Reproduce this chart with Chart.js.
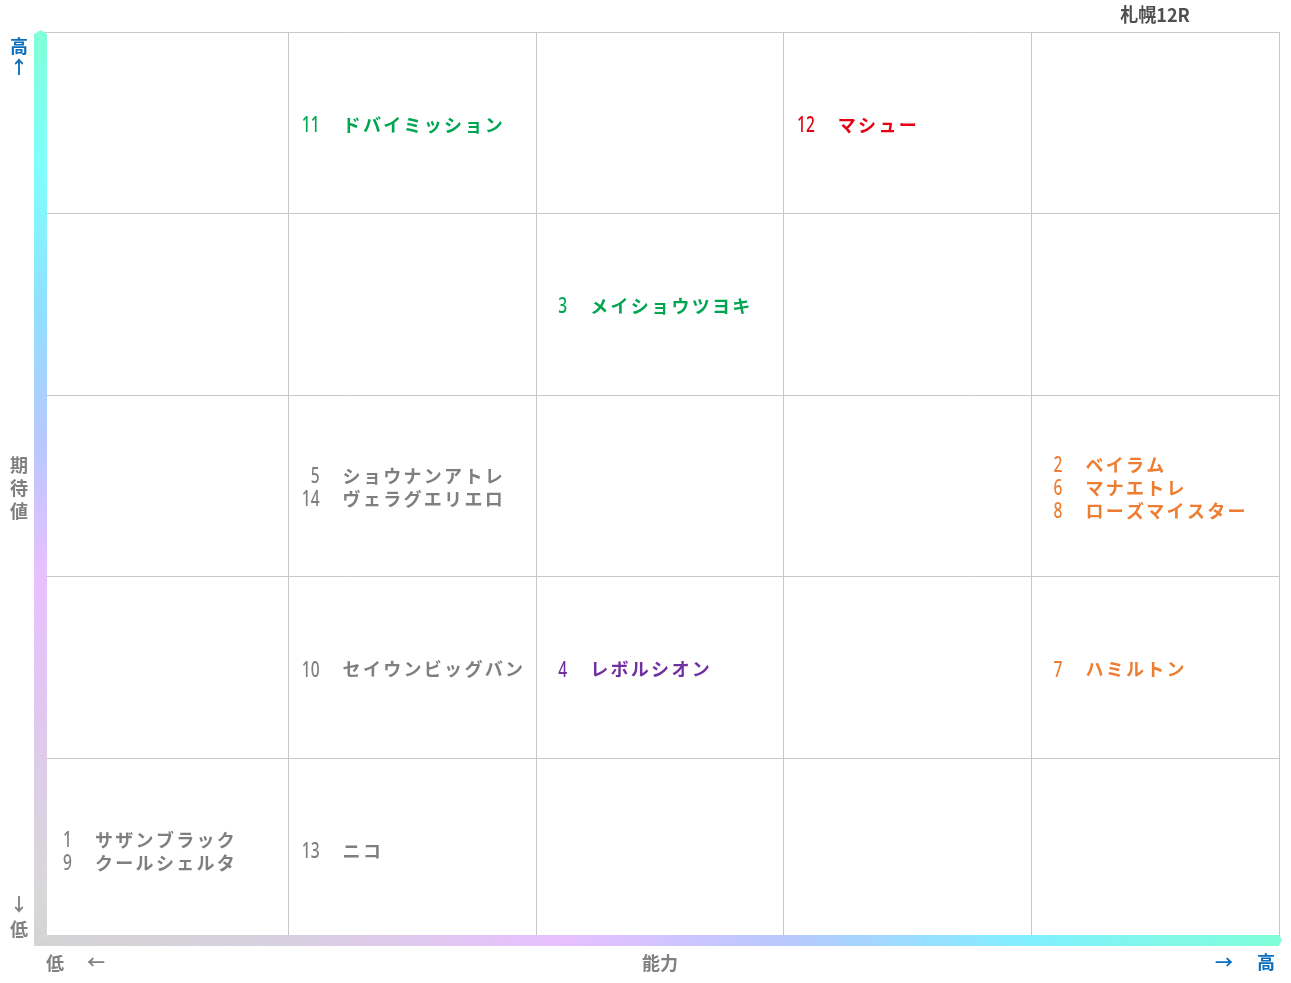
<!DOCTYPE html>
<html>
<head>
<meta charset="utf-8">
<script src="https://cdn.jsdelivr.net/npm/chart.js@4"></script>
<style>
body{margin:0;background:#fff}
#wrap{width:1291px;height:983px;position:relative}
</style>
</head>
<body>
<div id="wrap"><canvas id="myChart"></canvas></div>
<script>
// horses: number, name, ability (1-5 column), expectation (1-5 row), colour
var nums = [1,2,3,4,5,6,7,8,9,10,11,12,13,14];
var names = ["サザンブラック","ベイラム","メイショウツヨキ","レボルシオン","ショウナンアトレ","マナエトレ","ハミルトン","ローズマイスター","クールシェルタ","セイウンビッグバン","ドバイミッション","マシュー","ニコ","ヴェラグエリエロ"];
var ability =     [1,5,3,3,2,5,5,5,1,2,2,4,2,2];
var expectation = [1,3,4,2,3,3,2,3,1,2,5,5,1,3];
var colors = ["#7f7f7f","#ed7d31","#00a550","#7030a0","#7f7f7f","#ed7d31","#ed7d31","#ed7d31","#7f7f7f","#7f7f7f","#00a550","#e60012","#7f7f7f","#7f7f7f"];
var title = "札幌12R";

var pts = nums.map(function(n,i){ return {x: ability[i]-0.5, y: expectation[i]-0.5}; });

function narrowText(ctx, s, x, y, sx){
  ctx.save();
  ctx.translate(x, y);
  ctx.scale(sx, 1);
  ctx.fillText(s, 0, 0);
  ctx.restore();
}

var labelPlugin = {
  id: "labels",
  beforeDatasetsDraw: function(chart){
    var ctx = chart.ctx, a = chart.chartArea;
    ctx.save();
    // vertical gradient bar
    var g = ctx.createLinearGradient(0, a.top, 0, a.bottom);
    g.addColorStop(0, "#80ffd8");
    g.addColorStop(0.15, "#80ffff");
    g.addColorStop(0.3, "#90e0ff");
    g.addColorStop(0.45, "#b8c8ff");
    g.addColorStop(0.6, "#e8c0ff");
    g.addColorStop(0.75, "#e0c8f0");
    g.addColorStop(0.95, "#d8d8d8");
    g.addColorStop(1, "#d4d4d4");
    ctx.fillStyle = g;
    ctx.beginPath();
    ctx.moveTo(a.left-7, a.top+2);
    ctx.lineTo(a.left, a.top-2);
    ctx.lineTo(a.left+6, a.top+2);
    ctx.lineTo(a.left+6, a.bottom-5);
    ctx.lineTo(a.left-7, a.bottom+6);
    ctx.closePath();
    ctx.fill();
    // horizontal gradient bar
    var h = ctx.createLinearGradient(a.left, 0, a.right, 0);
    h.addColorStop(0, "#d4d4d4");
    h.addColorStop(0.2, "#d8d0e0");
    h.addColorStop(0.42, "#e8c0ff");
    h.addColorStop(0.6, "#b8c8ff");
    h.addColorStop(0.8, "#80f0ff");
    h.addColorStop(1, "#80ffd8");
    ctx.fillStyle = h;
    ctx.beginPath();
    ctx.moveTo(a.left-7, a.bottom+6);
    ctx.lineTo(a.left+6, a.bottom-5);
    ctx.lineTo(a.right, a.bottom-5);
    ctx.lineTo(a.right+3, a.bottom);
    ctx.lineTo(a.right, a.bottom+6);
    ctx.closePath();
    ctx.fill();

    // axis captions
    ctx.font = "bold 18px 'Noto Sans CJK JP'";
    ctx.textAlign = "center";
    ctx.textBaseline = "middle";
    ctx.fillStyle = "#0a6ebd";
    ctx.fillText("高", 19, 46);
    ctx.fillText("↑", 19, 67);
    ctx.fillText("→", 1224, 962);
    ctx.fillText("高", 1266, 962);
    ctx.fillStyle = "#808080";
    ctx.fillText("期", 19, 465);
    ctx.fillText("待", 19, 488);
    ctx.fillText("値", 19, 511);
    ctx.fillText("↓", 19, 904);
    ctx.fillText("低", 19, 929);
    ctx.fillText("低", 55, 963);
    ctx.fillText("←", 96, 962);
    ctx.fillText("能力", 660, 963);
    ctx.fillStyle = "#505050";
    ctx.font = "bold 19px 'Noto Sans CJK JP'";
    narrowText(ctx, title, 1155, 15, 0.95);

    // horse names in each cell
    var xs = chart.scales.x, ys = chart.scales.y;
    var groups = {};
    nums.forEach(function(n,i){
      var k = ability[i]+"_"+expectation[i];
      (groups[k] = groups[k] || []).push(i);
    });
    Object.keys(groups).forEach(function(k){
      var list = groups[k];
      list.forEach(function(i,j){
        var left = xs.getPixelForValue(ability[i]-1);
        var cy = ys.getPixelForValue(pts[i].y) + (j-(list.length-1)/2)*23 + 2;
        ctx.fillStyle = colors[i];
        ctx.textAlign = "right";
        ctx.font = "500 21px 'Noto Sans'";
        narrowText(ctx, String(nums[i]), left+31, cy + 1, 0.74);
        ctx.textAlign = "left";
        ctx.font = "bold 18px 'Noto Sans CJK JP'";
        var cx = left+54;
        for (var c of names[i]) {
          ctx.fillText(c, cx, cy);
          cx += 20.3;
        }
      });
    });
    ctx.restore();
  }
};

new Chart("myChart", {
  type: "scatter",
  data: {
    datasets: [{
      data: pts,
      pointRadius: 0,
      pointHoverRadius: 0,
      backgroundColor: colors
    }]
  },
  options: {
    responsive: true,
    maintainAspectRatio: false,
    animation: false,
    layout: { padding: { left: 41, top: 32, right: 12, bottom: 43 } },
    plugins: {
      legend: { display: false },
      tooltip: { enabled: false },
      title: { display: false }
    },
    scales: {
      x: {
        min: 0, max: 5,
        ticks: { display: false, stepSize: 1 },
        grid: { color: "#c8c8c8", drawTicks: false, lineWidth: 1 },
        border: { display: false }
      },
      y: {
        min: 0, max: 5,
        ticks: { display: false, stepSize: 1 },
        grid: { color: "#c8c8c8", drawTicks: false, lineWidth: 1 },
        border: { display: false }
      }
    }
  },
  plugins: [labelPlugin]
});
</script>
</body>
</html>
